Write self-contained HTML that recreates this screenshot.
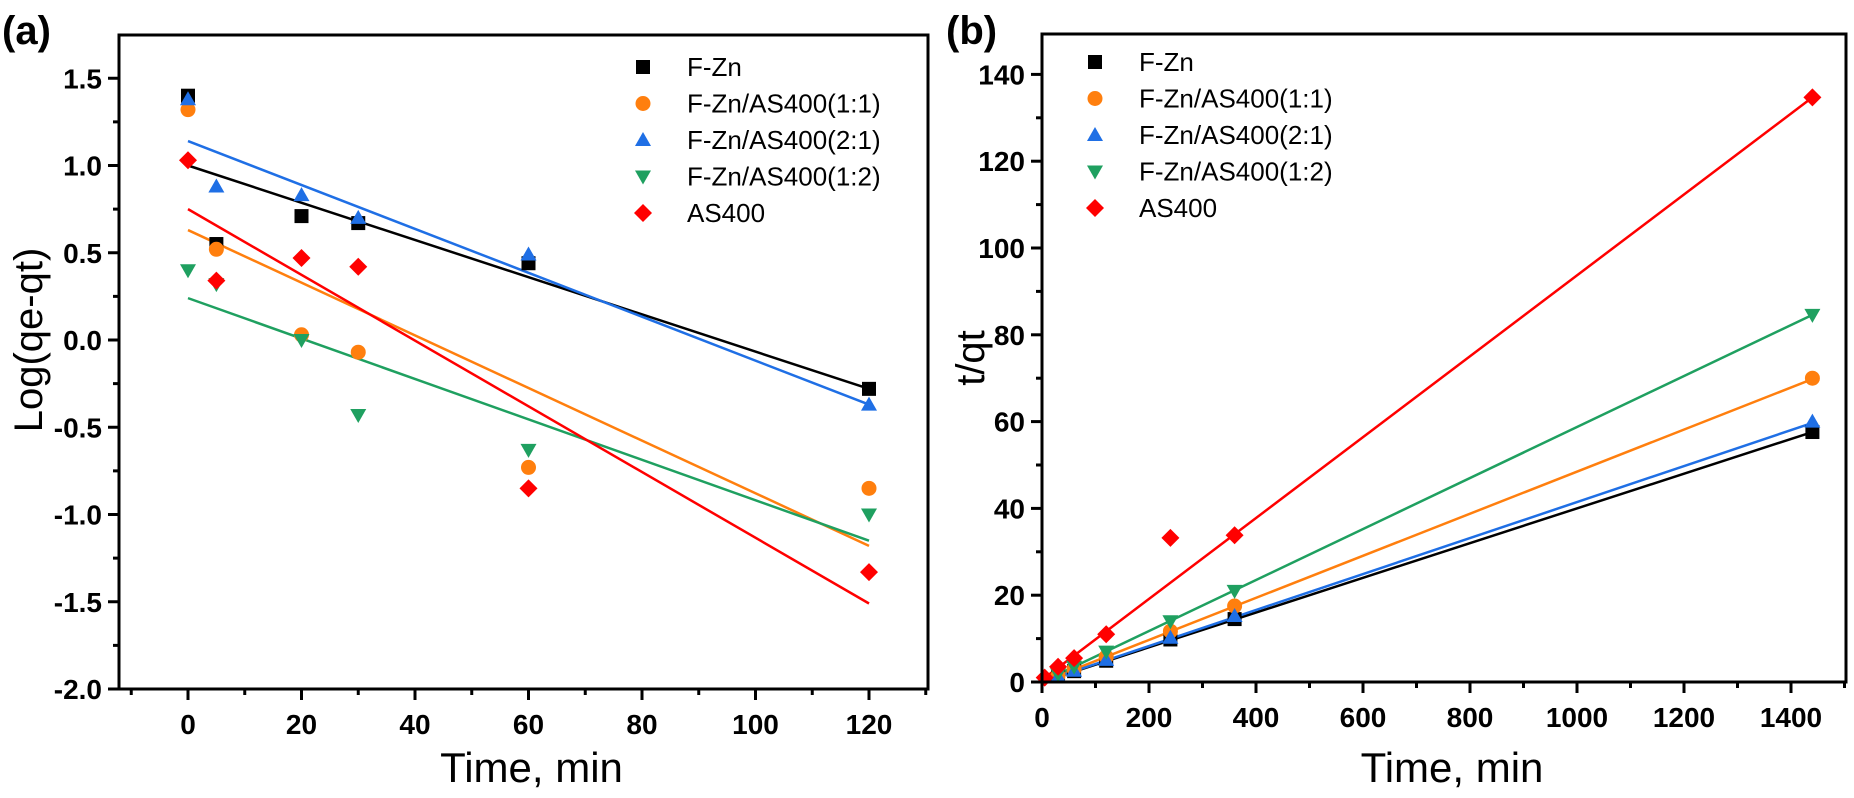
<!DOCTYPE html>
<html><head><meta charset="utf-8"><style>
html,body{margin:0;padding:0;background:#fff;}
svg text{font-family:"Liberation Sans",Arial,sans-serif;}
</style></head><body>
<svg width="1854" height="793" viewBox="0 0 1854 793" xmlns="http://www.w3.org/2000/svg">
<defs>
<g id="sq"><rect x="-7" y="-7" width="14" height="14"/></g>
<g id="ci"><circle r="7.5"/></g>
<g id="tu"><polygon points="0,-8 8,6 -8,6"/></g>
<g id="td"><polygon points="0,8 8,-6 -8,-6"/></g>
<g id="di"><polygon points="0,-9 9,0 0,9 -9,0"/></g>
</defs>
<text x="2" y="44" font-size="40" font-weight="bold">(a)</text>
<text x="946" y="44" font-size="40" font-weight="bold">(b)</text>
<g id="pa"></g>
<g id="pb"></g>
</svg>
<script>
const NS="http://www.w3.org/2000/svg";
function el(p,t,a,txt){const e=document.createElementNS(NS,t);for(const k in a)e.setAttribute(k,a[k]);if(txt!==undefined)e.textContent=txt;p.appendChild(e);return e;}
const C={k:"#000",o:"#ff7f0e",b:"#1f6fe5",g:"#1fa060",r:"#ff0000"};
function panel(g,o){
 const X=v=>o.x0+(v-o.xa)*o.sx, Y=v=>o.y0-(v-o.ya)*o.sy;
 o.series.forEach(s=>{el(g,"line",{x1:X(s.l[0]),y1:Y(s.l[1]),x2:X(s.l[2]),y2:Y(s.l[3]),stroke:C[s.c],"stroke-width":2.5});});
 o.series.forEach(s=>{s.p.forEach(p=>{el(g,"use",{href:"#"+s.m,x:X(p[0]),y:Y(p[1]),fill:C[s.c]});});});
 el(g,"rect",{x:o.L,y:o.T,width:o.R-o.L,height:o.B-o.T,fill:"none",stroke:"#000","stroke-width":3});
 for(let v=o.xmin;v<=o.xmax+1e-9;v+=o.xminor){const x=X(v);const maj=Math.abs((v-o.xa)/o.xmajor-Math.round((v-o.xa)/o.xmajor))<1e-6;
  if(x<o.L-1||x>o.R+1)continue;
  el(g,"line",{x1:x,y1:o.B,x2:x,y2:o.B+(maj?11:6),stroke:"#000","stroke-width":3});
  if(maj)el(g,"text",{x:x,y:o.B+45,"font-size":28,"font-weight":"bold","text-anchor":"middle"},o.xf(v));}
 for(let v=o.ymin;v<=o.ymax+1e-9;v+=o.yminor){const y=Y(v);const maj=Math.abs(v/o.ymajor-Math.round(v/o.ymajor))<1e-6;
  el(g,"line",{x1:o.L,y1:y,x2:o.L-(maj?11:6),y2:y,stroke:"#000","stroke-width":3});
  if(maj)el(g,"text",{x:o.L-17,y:y+10,"font-size":28,"font-weight":"bold","text-anchor":"end"},o.yf(v));}
 const names=["F-Zn","F-Zn/AS400(1:1)","F-Zn/AS400(2:1)","F-Zn/AS400(1:2)","AS400"];
 o.series.forEach((s,i)=>{const y=o.legY+i*36.5;el(g,"use",{href:"#"+s.m,x:o.legX,y:y,fill:C[s.c]});
  el(g,"text",{x:o.legX+44,y:y+9,"font-size":26},names[i]);});
 el(g,"text",{x:(o.L+o.R)/2+8,y:782,"font-size":42,"text-anchor":"middle"},"Time, min");
 el(g,"text",{x:0,y:0,"font-size":40,"text-anchor":"middle",transform:`translate(${o.ytx},${o.yty}) rotate(-90)`},o.yt);
}
panel(document.getElementById("pa"),{x0:188,xa:0,sx:5.675,y0:340,ya:0,sy:174.5,L:119,R:928,T:35,B:689,
 xmin:-10,xmax:130,xminor:10,xmajor:20,ymin:-2,ymax:1.5,yminor:0.25,ymajor:0.5,
 xf:v=>String(Math.round(v)),yf:v=>v.toFixed(1),legX:643,legY:67,ytx:42,yty:340,yt:"Log(qe-qt)",
 series:[
 {c:"k",m:"sq",p:[[0,1.4],[5,0.55],[20,0.71],[30,0.67],[60,0.44],[120,-0.28]],l:[0,1.0,120,-0.28]},
 {c:"o",m:"ci",p:[[0,1.32],[5,0.52],[20,0.03],[30,-0.07],[60,-0.73],[120,-0.85]],l:[0,0.63,120,-1.18]},
 {c:"b",m:"tu",p:[[0,1.38],[5,0.88],[20,0.83],[30,0.70],[60,0.49],[120,-0.37]],l:[0,1.14,120,-0.37]},
 {c:"g",m:"td",p:[[0,0.40],[5,0.32],[20,0.0],[30,-0.43],[60,-0.63],[120,-1.0]],l:[0,0.24,120,-1.15]},
 {c:"r",m:"di",p:[[0,1.03],[5,0.34],[20,0.47],[30,0.42],[60,-0.85],[120,-1.33]],l:[0,0.75,120,-1.51]}]});
panel(document.getElementById("pb"),{x0:1042,xa:0,sx:0.535,y0:682,ya:0,sy:4.34,L:1042,R:1846,T:34,B:682,
 xmin:0,xmax:1500,xminor:100,xmajor:200,ymin:0,ymax:140,yminor:10,ymajor:20,
 xf:v=>String(Math.round(v)),yf:v=>String(Math.round(v)),legX:1095,legY:62,ytx:984,yty:358,yt:"t/qt",
 series:[
 {c:"k",m:"sq",p:[[30,1.3],[60,2.5],[120,4.9],[240,9.8],[360,14.5],[1440,57.6]],l:[0,0,1440,57.6]},
 {c:"o",m:"ci",p:[[30,1.5],[60,3],[120,5.8],[240,11.7],[360,17.5],[1440,70]],l:[0,0,1440,69.8]},
 {c:"b",m:"tu",p:[[30,1.3],[60,2.6],[120,5.1],[240,10.2],[360,15.2],[1440,60]],l:[0,0,1440,59.7]},
 {c:"g",m:"td",p:[[30,1.8],[60,3.5],[120,7],[240,14],[360,21],[1440,84.6]],l:[0,0,1440,84.6]},
 {c:"r",m:"di",p:[[5,1],[30,3.5],[60,5.5],[120,11],[240,33.2],[360,33.8],[1440,134.7]],l:[0,0.5,1440,134.7]}]});
</script>
</body></html>
